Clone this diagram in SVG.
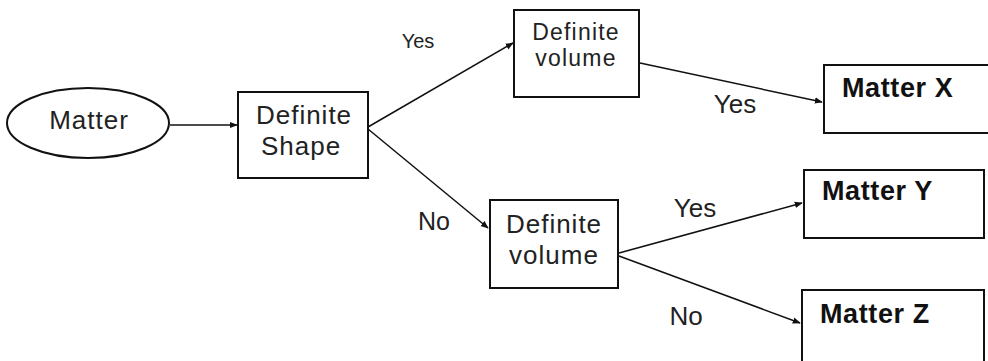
<svg xmlns="http://www.w3.org/2000/svg" width="988" height="361" viewBox="0 0 988 361">
<defs>
<marker id="arr" viewBox="0 0 10 10" refX="9" refY="5" markerWidth="8" markerHeight="8" markerUnits="userSpaceOnUse" orient="auto">
<path d="M0,1 L10,5 L0,9 z" fill="#111"/>
</marker>
</defs>
<style>
.box{fill:#fff;stroke:#111;stroke-width:2}
.t{font-family:"Liberation Sans",Arial,sans-serif;font-size:26px;letter-spacing:1px;fill:#222;text-anchor:middle}
.b{font-family:"Liberation Sans",Arial,sans-serif;font-size:27px;letter-spacing:0.6px;font-weight:bold;fill:#111}
.lbl{font-family:"Liberation Sans",Arial,sans-serif;font-size:26px;fill:#222;text-anchor:middle}
.c{fill:none;stroke:#111;stroke-width:1.5;marker-end:url(#arr)}
</style>
<rect width="988" height="361" fill="#fff"/>
<g id="connectors">
<line class="c" x1="170" y1="125" x2="237" y2="125"/>
<line class="c" x1="368" y1="127" x2="513" y2="43"/>
<line class="c" x1="368" y1="129" x2="488" y2="228"/>
<line class="c" x1="640" y1="63" x2="822" y2="102"/>
<line class="c" x1="619" y1="253" x2="802" y2="203"/>
<line class="c" x1="619" y1="256" x2="800" y2="323"/>
</g>
<g id="labels">
<text class="lbl" x="418" y="48" style="font-size:20px">Yes</text>
<text class="lbl" x="735" y="113">Yes</text>
<text class="lbl" x="434" y="230" style="font-size:25px">No</text>
<text class="lbl" x="695" y="217">Yes</text>
<text class="lbl" x="686" y="325">No</text>
</g>
<g id="matter">
<ellipse cx="88" cy="123" rx="81" ry="35" fill="#fff" stroke="#111" stroke-width="2"/>
<text class="t" x="89" y="129">Matter</text>
</g>
<g id="definite-shape">
<rect class="box" x="238" y="92" width="130" height="86"/>
<text class="t" x="304" y="124">Definite</text>
<text class="t" x="301" y="155">Shape</text>
</g>
<g id="definite-volume-top">
<rect class="box" x="514" y="10" width="125" height="87"/>
<text class="t" x="576" y="40" style="font-size:23px;letter-spacing:1.2px">Definite</text>
<text class="t" x="576" y="66" style="font-size:23px;letter-spacing:1.2px">volume</text>
</g>
<g id="definite-volume-bottom">
<rect class="box" x="490" y="200" width="128" height="88"/>
<text class="t" x="554" y="233">Definite</text>
<text class="t" x="554" y="264">volume</text>
</g>
<g id="matter-x">
<rect class="box" x="824" y="65" width="180" height="68"/>
<text class="b" x="842" y="97">Matter X</text>
</g>
<g id="matter-y">
<rect class="box" x="804" y="170" width="180" height="68"/>
<text class="b" x="822" y="200">Matter Y</text>
</g>
<g id="matter-z">
<rect class="box" x="802" y="290" width="182" height="75"/>
<text class="b" x="820" y="323">Matter Z</text>
</g>
</svg>
